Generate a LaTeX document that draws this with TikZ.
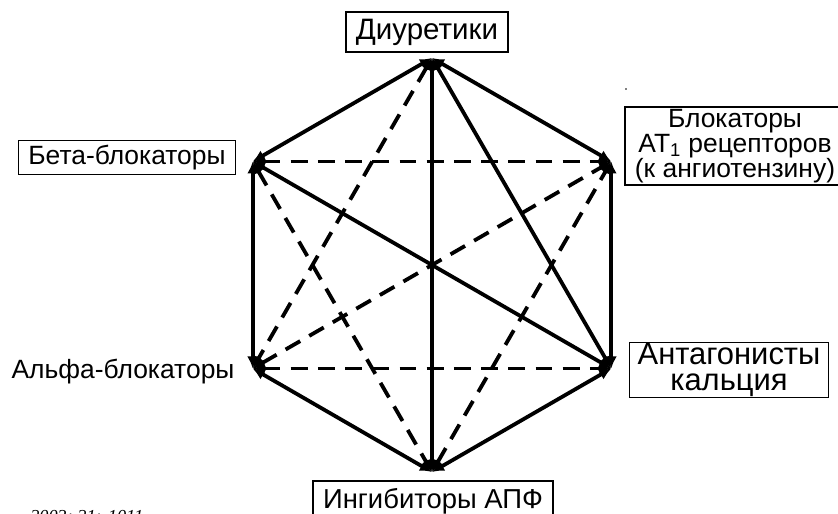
\documentclass[tikz,border=0pt]{standalone}
\usepackage{fontspec}
\setmainfont{Liberation Sans}
\newfontfamily\refserif{Liberation Serif}
\usetikzlibrary{arrows.meta}
\tikzset{
  lbl/.style={draw, line width=1pt, inner xsep=0.25cm},
  solidline/.style={line width=2.7pt, {Latex[length=3mm,width=2.8mm]}-{Latex[length=3mm,width=2.8mm]}},
  dashline/.style={solidline, dash pattern=on 0.42cm off 0.26cm},
}
\begin{document}
\begin{tikzpicture}
  \useasboundingbox (-10.8,-6.225) rectangle (10.15,6.625);
  \path
    (90:5.175) coordinate (0)
    (30:5.175) coordinate (1)
    (-30:5.175) coordinate (2)
    (-90:5.175) coordinate (3)
    (210:5.175) coordinate (4)
    (150:5.175) coordinate (5);
  \node[lbl, minimum height=1cm, font=\fontsize{21pt}{24pt}\selectfont] (l0) at (-0.125,5.825) {Диуретики};
  \node[lbl, inner ysep=0.06cm, align=center, font=\fontsize{18.8pt}{17.6pt}\selectfont] (l1) at (7.575,2.975)
    {Блокаторы\\ AT\textsubscript{1} рецепторов\\(к ангиотензину)};
  \node[lbl, inner xsep=0.2cm, inner ysep=0.02cm, align=center, font=\fontsize{22pt}{18.5pt}\selectfont] (l2) at (7.425,-2.625)
    {Антагонисты\\кальция};
  \node[lbl, minimum height=1cm, font=\fontsize{19.5pt}{22pt}\selectfont] (l3) at (0.025,-5.9) {Ингибиторы АПФ};
  \node[font=\fontsize{18.8pt}{22pt}\selectfont] (l4) at (-7.725,-2.675) {Альфа-блокаторы};
  \node[lbl, minimum height=0.76cm, font=\fontsize{18.8pt}{22pt}\selectfont] (l5) at (-7.625,2.6875) {Бета-блокаторы};
  \node[anchor=north west, inner sep=0pt, font=\refserif\itshape\fontsize{13pt}{15pt}\selectfont] (src) at (-10.05,-6.125) {2003; 21: 1011};
  \fill (4.85,4.4) circle (0.02);
  \begin{scope}[solidline]
    \draw (0) to (1);
    \draw (1) to (2);
    \draw (2) to (3);
    \draw (3) to (4);
    \draw (4) to (5);
    \draw (5) to (0);
    \draw (0) to (3);
    \draw (5) to (2);
    \draw (0) to (2);
  \end{scope}
  \begin{scope}[dashline]
    \draw (5) to (1);
    \draw (4) to (2);
    \draw (0) to (4);
    \draw (5) to (3);
    \draw (4) to (1);
    \draw (3) to (1);
  \end{scope}
\end{tikzpicture}
\end{document}
